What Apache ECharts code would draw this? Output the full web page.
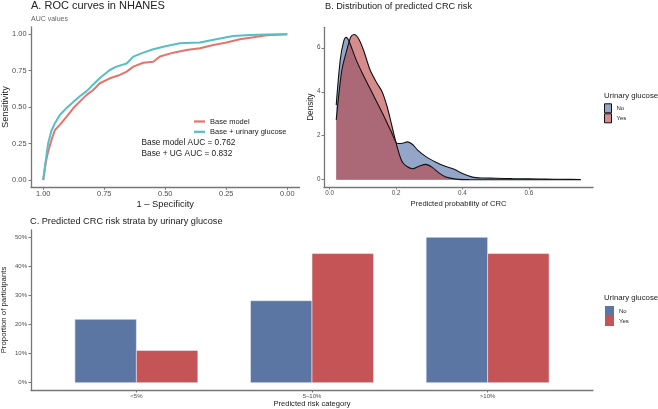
<!DOCTYPE html>
<html>
<head>
<meta charset="utf-8">
<script src="https://cdn.jsdelivr.net/npm/echarts@6/dist/echarts.min.js"></script>
<style>html,body{margin:0;padding:0;background:#fff}#main{width:658px;height:409px}</style>
</head>
<body>
<div id="main"></div>
<script type="text/javascript">
// ROC curves (specificity, sensitivity)
var baseSpec = [1, .99, .98, .966, .952, .932, .904, .877, .85, .822, .795, .768, .727, .686, .658, .631, .59, .549, .522, .467, .413, .358, .303, .249, .194, .139, .085, 0];
var baseSens = [0, .114, .195, .275, .343, .378, .435, .492, .538, .584, .618, .664, .698, .721, .744, .778, .805, .812, .847, .874, .892, .904, .927, .943, .966, .979, .993, 1];
var ugSpec = [1, .993, .98, .966, .952, .932, .904, .877, .85, .822, .795, .768, .727, .70, .658, .631, .59, .549, .495, .44, .358, .317, .249, .221, .153, .085, 0];
var ugSens = [0, .09, .25, .34, .39, .446, .495, .535, .575, .61, .655, .70, .755, .778, .80, .847, .874, .897, .92, .938, .943, .957, .979, .988, .995, .998, 1];

// density of predicted risk
var noX = [.02, .032, .042, .05, .057, .08, .1, .13, .16, .185, .205, .22, .235, .25, .265, .29, .32, .35, .375, .4, .43, .46, .5, .55, .6, .65, .7, .756];
var noY = [3.40, 5.44, 6.27, 6.47, 6.35, 5.45, 4.8, 3.9, 3.0, 2.2, 1.65, 1.66, 1.72, 1.6, 1.35, 1.05, .8, .6, .48, .28, .12, .08, .07, .05, .04, .03, .02, .01];
var yesX = [.02, .037, .052, .064, .074, .087, .102, .122, .143, .158, .173, .188, .203, .218, .233, .25, .27, .29, .31, .33, .35, .38, .42, .5, .6, .756];
var yesY = [2.72, 4.99, 5.9, 6.5, 6.6, 6.42, 5.9, 4.99, 4.38, 4.0, 3.33, 2.42, 1.51, .83, .6, .5, .62, .7, .55, .3, .12, .03, .005, .002, .001, 0];

// risk strata
var riskCats = ['<5%', '5–10%', '>10%'];
var barNo = [21.8, 28.2, 50.0];
var barYes = [11.1, 44.4, 44.4];

var FONT = 'Liberation Sans';
var RED = '#E6736B', TEAL = '#55BFC5';
var BLUE_BAR = '#5B76A3', RED_BAR = '#C45455';

function zip(a, b) { return a.map(function (v, i) { return [v, b[i]]; }); }

var axisLine = { onZero: false, lineStyle: { color: '#777', width: 1.3 } };
var axisTick = { length: 2.5, lineStyle: { color: '#777', width: 1 } };

function txt(text, left, top, size, color) {
  return { text: text, left: left, top: top, padding: 0,
    textStyle: { fontSize: size, fontWeight: 'normal', color: color || '#222', fontFamily: FONT } };
}

function barSeries(name, vals, off, color) {
  return {
    type: 'custom', name: name, xAxisIndex: 2, yAxisIndex: 2,
    data: vals.map(function (v, i) { return [i + 1, v]; }),
    encode: { x: 0, y: 1 },
    renderItem: function (params, api) {
      var x = api.value(0), y = api.value(1);
      var p0 = api.coord([x + off, y]);
      var p1 = api.coord([x + off + 0.35, 0]);
      return {
        type: 'rect',
        shape: { x: p0[0], y: p0[1], width: p1[0] - p0[0], height: p1[1] - p0[1] },
        style: { fill: color, stroke: '#e8eef8', lineWidth: 0.6 }
      };
    }
  };
}

var chart = echarts.init(document.getElementById('main'));
chart.setOption({
  animation: false,
  textStyle: { fontFamily: FONT },
  title: [
    txt('A. ROC curves in NHANES', 31, 0.5, 11),
    txt('AUC values', 31, 15.5, 7, '#666'),
    txt('B. Distribution of predicted CRC risk', 325, 1.5, 9.2),
    txt('C. Predicted CRC risk strata by urinary glucose', 30, 216.5, 9.2),
    txt('Base model AUC = 0.762', 141.5, 138.5, 8.3),
    txt('Base + UG AUC = 0.832', 141.5, 150.1, 8.3),
    txt('Urinary glucose', 604, 91.7, 7.8),
    txt('Urinary glucose', 604, 294.3, 7.8)
  ],
  legend: [
    {
      left: 194, top: 117.5, orient: 'vertical', itemWidth: 11, itemHeight: 2.2, itemGap: 2.3, padding: 0,
      textStyle: { fontSize: 7.5, color: '#222', fontFamily: FONT },
      data: [
        { name: 'Base model', icon: 'rect', itemStyle: { color: RED } },
        { name: 'Base + urinary glucose', icon: 'rect', itemStyle: { color: TEAL } }
      ]
    },
    {
      left: 604, top: 103.3, orient: 'vertical', itemWidth: 7, itemHeight: 9, itemGap: 0, padding: 0,
      textStyle: { fontSize: 6, color: '#222', fontFamily: FONT },
      data: [
        { name: 'No', icon: 'rect', itemStyle: { color: '#93A6C7', borderColor: '#111', borderWidth: 1 } },
        { name: 'Yes', icon: 'rect', itemStyle: { color: '#D98C8C', borderColor: '#111', borderWidth: 1 } }
      ]
    },
    {
      left: 605, top: 306, orient: 'vertical', itemWidth: 9, itemHeight: 10, itemGap: 0, padding: 0,
      textStyle: { fontSize: 6, color: '#222', fontFamily: FONT },
      data: [
        { name: 'No', icon: 'rect', itemStyle: { color: BLUE_BAR, borderWidth: 0 } },
        { name: 'Yes', icon: 'rect', itemStyle: { color: RED_BAR, borderWidth: 0 } }
      ]
    }
  ],
  grid: [
    { left: 31, top: 27, width: 268.5, height: 160.3, outerBoundsMode: 'none' },
    { left: 324, top: 27.3, width: 269, height: 159.7, outerBoundsMode: 'none' },
    { left: 31, top: 230, width: 562, height: 160, outerBoundsMode: 'none' }
  ],
  xAxis: [
    {
      gridIndex: 0, type: 'value', inverse: true, min: -0.05, max: 1.05,
      splitLine: { show: false }, axisLine: axisLine,
      axisTick: Object.assign({ customValues: [0, 0.25, 0.5, 0.75, 1] }, axisTick),
      axisLabel: { customValues: [0, 0.25, 0.5, 0.75, 1], fontSize: 7.4, color: '#4d4d4d', margin: 3.5,
        formatter: function (v) { return v.toFixed(2); } },
      name: '1 – Specificity', nameLocation: 'middle', nameGap: 12.5, nameMoveOverlap: false,
      nameTextStyle: { fontSize: 9.3, color: '#222', verticalAlign: 'top' }
    },
    {
      gridIndex: 1, type: 'value', min: -0.0168, max: 0.7928,
      splitLine: { show: false }, axisLine: axisLine,
      axisTick: Object.assign({ customValues: [0, 0.2, 0.4, 0.6] }, axisTick),
      axisLabel: { customValues: [0, 0.2, 0.4, 0.6], fontSize: 6.3, color: '#4d4d4d', margin: 3,
        formatter: function (v) { return v.toFixed(1); } },
      name: 'Predicted probability of CRC', nameLocation: 'middle', nameGap: 12.8, nameMoveOverlap: false,
      nameTextStyle: { fontSize: 7.6, color: '#222', verticalAlign: 'top' }
    },
    {
      gridIndex: 2, type: 'value', min: 0.4, max: 3.6,
      splitLine: { show: false }, axisLine: axisLine,
      axisTick: Object.assign({ customValues: [1, 2, 3] }, axisTick),
      axisLabel: { customValues: [1, 2, 3], fontSize: 6, color: '#4d4d4d', margin: 3,
        formatter: function (v) { return riskCats[Math.round(v) - 1]; } },
      name: 'Predicted risk category', nameLocation: 'middle', nameGap: 10.2, nameMoveOverlap: false,
      nameTextStyle: { fontSize: 7.6, color: '#222', verticalAlign: 'top' }
    }
  ],
  yAxis: [
    {
      gridIndex: 0, type: 'value', min: -0.05, max: 1.05,
      splitLine: { show: false }, axisLine: axisLine,
      axisTick: Object.assign({ customValues: [0, 0.25, 0.5, 0.75, 1] }, axisTick),
      axisLabel: { customValues: [0, 0.25, 0.5, 0.75, 1], fontSize: 7.4, color: '#4d4d4d', margin: 4.5,
        formatter: function (v) { return v.toFixed(2); } },
      name: 'Sensitivity', nameLocation: 'middle', nameGap: 21, nameRotate: 90, nameMoveOverlap: false,
      nameTextStyle: { fontSize: 9.3, color: '#222' }
    },
    {
      gridIndex: 1, type: 'value', min: -0.33, max: 6.93,
      splitLine: { show: false }, axisLine: axisLine,
      axisTick: Object.assign({ customValues: [0, 2, 4, 6] }, axisTick),
      axisLabel: { customValues: [0, 2, 4, 6], fontSize: 6.3, color: '#4d4d4d', margin: 3.5 },
      name: 'Density', nameLocation: 'middle', nameGap: 9, nameRotate: 90, nameMoveOverlap: false,
      nameTextStyle: { fontSize: 8.2, color: '#222' }
    },
    {
      gridIndex: 2, type: 'value', min: -2.5, max: 52.5,
      splitLine: { show: false }, axisLine: axisLine,
      axisTick: Object.assign({ customValues: [0, 10, 20, 30, 40, 50] }, axisTick),
      axisLabel: { customValues: [0, 10, 20, 30, 40, 50], fontSize: 6, color: '#4d4d4d', margin: 4,
        formatter: function (v) { return v + '%'; } },
      name: 'Proportion of participants', nameLocation: 'middle', nameGap: 23, nameRotate: 90, nameMoveOverlap: false,
      nameTextStyle: { fontSize: 7.8, color: '#222' }
    }
  ],
  series: [
    { type: 'line', name: 'Base model', xAxisIndex: 0, yAxisIndex: 0, data: zip(baseSpec, baseSens),
      showSymbol: false, lineStyle: { color: RED, width: 2 }, itemStyle: { color: RED } },
    { type: 'line', name: 'Base + urinary glucose', xAxisIndex: 0, yAxisIndex: 0, data: zip(ugSpec, ugSens),
      showSymbol: false, lineStyle: { color: TEAL, width: 2 }, itemStyle: { color: TEAL } },
    { type: 'line', name: 'No', xAxisIndex: 1, yAxisIndex: 1, data: zip(noX, noY), smooth: 0.3,
      showSymbol: false, lineStyle: { color: '#111', width: 1.1 }, itemStyle: { color: '#93A6C7' },
      areaStyle: { color: '#4B6BA2', opacity: 0.6 } },
    { type: 'line', name: 'Yes', xAxisIndex: 1, yAxisIndex: 1, data: zip(yesX, yesY), smooth: 0.3,
      showSymbol: false, lineStyle: { color: '#111', width: 1.1 }, itemStyle: { color: '#D98C8C' },
      areaStyle: { color: '#BB3F3F', opacity: 0.6 } },
    barSeries('No', barNo, -0.35, BLUE_BAR),
    barSeries('Yes', barYes, 0, RED_BAR)
  ]
});
</script>
</body>
</html>
